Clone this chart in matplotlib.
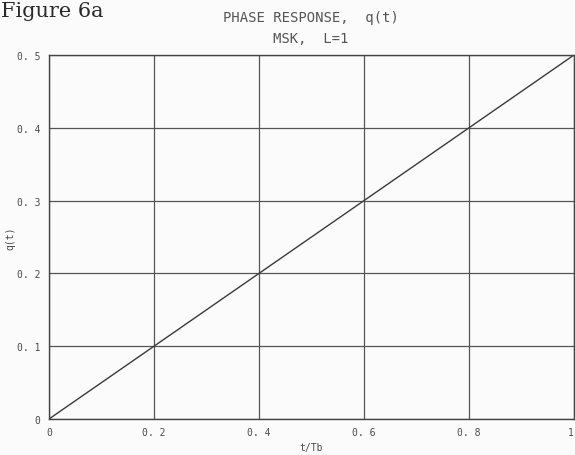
import matplotlib
matplotlib.use("Agg")
import matplotlib.pyplot as plt

# phase response of MSK (L=1): q(t) rises linearly to 1/2 over one bit period
t_over_tb = [0.0, 0.2, 0.4, 0.6, 0.8, 1.0]
q_t = [0.0, 0.1, 0.2, 0.3, 0.4, 0.5]

x_ticks = [0.0, 0.2, 0.4, 0.6, 0.8, 1.0]
x_tick_labels = ["0", "0. 2", "0. 4", "0. 6", "0. 8", "1"]
y_ticks = [0.0, 0.1, 0.2, 0.3, 0.4, 0.5]
y_tick_labels = ["0", "0. 1", "0. 2", "0. 3", "0. 4", "0. 5"]

ink = "#4a4a4a"
paper = "#fbfbfb"

fig = plt.figure(figsize=(5.75, 4.56), dpi=100, facecolor=paper)
ax = fig.add_axes([49 / 575, 36 / 456, 525 / 575, 364 / 456], facecolor=paper)

ax.plot(t_over_tb, q_t, color="#3a3a3a", linewidth=1.0)

ax.set_xlim(0, 1)
ax.set_ylim(0, 0.5)
ax.set_xticks(x_ticks)
ax.set_xticklabels(x_tick_labels)
ax.set_yticks(y_ticks)
ax.set_yticklabels(y_tick_labels)
ax.tick_params(length=0, pad=6, labelsize=7, labelcolor=ink)
for lbl in ax.get_xticklabels() + ax.get_yticklabels():
    lbl.set_family("DejaVu Sans Mono")
# keep the last x label inside the figure edge
ax.get_xticklabels()[-1].set_horizontalalignment("right")

ax.grid(True, color="#555555", linewidth=0.9)
for side in ax.spines.values():
    side.set_color("#444444")
    side.set_linewidth(1.0)

ax.set_xlabel("t/Tb", fontsize=7, color=ink, family="DejaVu Sans Mono")
ax.xaxis.set_label_coords(0.5, -0.063)
ax.set_ylabel("q(t)", fontsize=7, color=ink, family="DejaVu Sans Mono")
ax.yaxis.set_label_coords(-0.065, 0.5)

fig.text(311 / 575, 1 - 18 / 456, "PHASE RESPONSE,  q(t)", ha="center", va="center",
         fontsize=10, color="#555555", family="DejaVu Sans Mono")
fig.text(311 / 575, 1 - 39 / 456, "MSK,  L=1", ha="center", va="center",
         fontsize=10, color="#555555", family="DejaVu Sans Mono")
fig.text(1 / 575, 1 - 17 / 456, "Figure 6a", ha="left", va="baseline",
         fontsize=15, color="#2a2a2a", family="DejaVu Serif")

fig.savefig("out.png", dpi=100, facecolor=paper)
